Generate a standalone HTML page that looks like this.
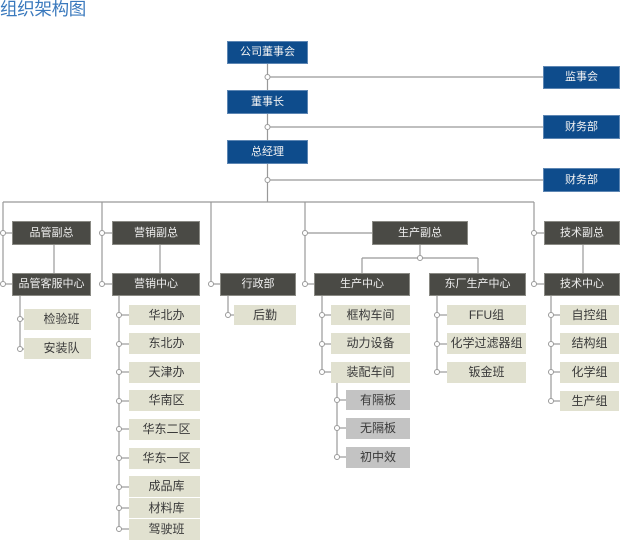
<!DOCTYPE html>
<html><head><meta charset="utf-8">
<style>
html,body{margin:0;padding:0;background:#fff;}
body{width:620px;height:546px;position:relative;overflow:hidden;font-family:"Liberation Sans","Noto Sans CJK SC",sans-serif;}
.t{position:absolute;left:0;top:-1px;font-size:17.5px;color:#3a79bd;line-height:20px;letter-spacing:-0.3px;}
.b{position:absolute;box-sizing:border-box;text-align:center;font-size:11px;white-space:nowrap;}
.bl{background:#0e4c8c;color:#f2f2f2;border:1px solid #5d86b3;}
.dk{background:#4a4a45;color:#f0f0f0;border:1px solid #8a8a84;}
.lt{background:#e1e1d0;color:#3a3a3a;font-size:12px;}
.gr{background:#c3c3c3;color:#3a3a3a;font-size:12px;}
svg{position:absolute;left:0;top:0;}
</style></head><body>
<div class="t">组织架构图</div>
<svg width="620" height="546" viewBox="0 0 620 546">
<g stroke="#999" stroke-width="1.2" fill="none">
<line x1="267.5" y1="64" x2="267.5" y2="202"/>
<line x1="267.5" y1="77" x2="543" y2="77"/>
<line x1="267.5" y1="127" x2="543" y2="127"/>
<line x1="267.5" y1="180" x2="543" y2="180"/>
<line x1="3" y1="202" x2="534" y2="202"/>
<line x1="3" y1="202" x2="3" y2="284"/>
<line x1="102" y1="202" x2="102" y2="284"/>
<line x1="211" y1="202" x2="211" y2="284"/>
<line x1="305" y1="202" x2="305" y2="284"/>
<line x1="534" y1="202" x2="534" y2="284"/>
<line x1="3" y1="233" x2="12" y2="233"/>
<line x1="3" y1="284" x2="12" y2="284"/>
<line x1="102" y1="233" x2="112" y2="233"/>
<line x1="102" y1="284" x2="112" y2="284"/>
<line x1="211" y1="284" x2="220" y2="284"/>
<line x1="305" y1="233" x2="372" y2="233"/>
<line x1="305" y1="284" x2="314" y2="284"/>
<line x1="534" y1="233" x2="544" y2="233"/>
<line x1="534" y1="284" x2="544" y2="284"/>
<line x1="54" y1="245" x2="54" y2="273"/>
<line x1="160" y1="245" x2="160" y2="273"/>
<line x1="583" y1="245" x2="583" y2="273"/>
<line x1="420" y1="245" x2="420" y2="258"/>
<line x1="362" y1="258" x2="478" y2="258"/>
<line x1="362" y1="258" x2="362" y2="273"/>
<line x1="478" y1="258" x2="478" y2="273"/>
<line x1="20" y1="296" x2="20" y2="349"/>
<line x1="20" y1="319" x2="24" y2="319"/>
<line x1="20" y1="349" x2="24" y2="349"/>
<line x1="119" y1="296" x2="119" y2="529"/>
<line x1="119" y1="315" x2="129" y2="315"/>
<line x1="119" y1="344" x2="129" y2="344"/>
<line x1="119" y1="372" x2="129" y2="372"/>
<line x1="119" y1="401" x2="129" y2="401"/>
<line x1="119" y1="429" x2="129" y2="429"/>
<line x1="119" y1="458" x2="129" y2="458"/>
<line x1="119" y1="487" x2="129" y2="487"/>
<line x1="119" y1="508" x2="129" y2="508"/>
<line x1="119" y1="529" x2="129" y2="529"/>
<line x1="228" y1="296" x2="228" y2="315"/>
<line x1="228" y1="315" x2="234" y2="315"/>
<line x1="322" y1="296" x2="322" y2="372"/>
<line x1="322" y1="315" x2="331" y2="315"/>
<line x1="322" y1="344" x2="331" y2="344"/>
<line x1="322" y1="372" x2="331" y2="372"/>
<line x1="337" y1="383" x2="337" y2="457"/>
<line x1="337" y1="400" x2="346" y2="400"/>
<line x1="337" y1="428" x2="346" y2="428"/>
<line x1="337" y1="457" x2="346" y2="457"/>
<line x1="437" y1="296" x2="437" y2="372"/>
<line x1="437" y1="315" x2="447" y2="315"/>
<line x1="437" y1="344" x2="447" y2="344"/>
<line x1="437" y1="372" x2="447" y2="372"/>
<line x1="551" y1="296" x2="551" y2="401"/>
<line x1="551" y1="315" x2="560" y2="315"/>
<line x1="551" y1="344" x2="560" y2="344"/>
<line x1="551" y1="372" x2="560" y2="372"/>
<line x1="551" y1="401" x2="560" y2="401"/>
</g>
<g stroke="#999" stroke-width="1" fill="#fff">
<circle cx="267.5" cy="77" r="2.5"/><circle cx="267.5" cy="127" r="2.5"/><circle cx="267.5" cy="180" r="2.5"/>
<circle cx="3" cy="233" r="2.5"/><circle cx="3" cy="284" r="2.5"/>
<circle cx="102" cy="233" r="2.5"/><circle cx="102" cy="284" r="2.5"/>
<circle cx="211" cy="284" r="2.5"/>
<circle cx="305" cy="233" r="2.5"/><circle cx="305" cy="284" r="2.5"/>
<circle cx="534" cy="233" r="2.5"/><circle cx="534" cy="284" r="2.5"/>
<circle cx="420" cy="258" r="2.5"/>
<circle cx="20" cy="319" r="2.5"/><circle cx="20" cy="349" r="2.5"/>
<circle cx="119" cy="315" r="2.5"/><circle cx="119" cy="344" r="2.5"/><circle cx="119" cy="372" r="2.5"/>
<circle cx="119" cy="401" r="2.5"/><circle cx="119" cy="429" r="2.5"/><circle cx="119" cy="458" r="2.5"/>
<circle cx="119" cy="487" r="2.5"/><circle cx="119" cy="508" r="2.5"/><circle cx="119" cy="529" r="2.5"/>
<circle cx="228" cy="315" r="2.5"/>
<circle cx="322" cy="315" r="2.5"/><circle cx="322" cy="344" r="2.5"/><circle cx="322" cy="372" r="2.5"/>
<circle cx="337" cy="400" r="2.5"/><circle cx="337" cy="428" r="2.5"/><circle cx="337" cy="457" r="2.5"/>
<circle cx="437" cy="315" r="2.5"/><circle cx="437" cy="344" r="2.5"/><circle cx="437" cy="372" r="2.5"/>
<circle cx="551" cy="315" r="2.5"/><circle cx="551" cy="344" r="2.5"/><circle cx="551" cy="372" r="2.5"/><circle cx="551" cy="401" r="2.5"/>
</g>
</svg>

<div class="b bl" style="left:227px;top:41px;width:81px;height:23px;line-height:21px;">公司董事会</div>
<div class="b bl" style="left:227px;top:90px;width:81px;height:24px;line-height:22px;">董事长</div>
<div class="b bl" style="left:227px;top:140px;width:81px;height:24px;line-height:22px;">总经理</div>
<div class="b bl" style="left:543px;top:66px;width:77px;height:23px;line-height:21px;">监事会</div>
<div class="b bl" style="left:543px;top:115px;width:77px;height:24px;line-height:22px;">财务部</div>
<div class="b bl" style="left:543px;top:168px;width:77px;height:24px;line-height:22px;">财务部</div>

<div class="b dk" style="left:12px;top:221px;width:79px;height:24px;line-height:22px;">品管副总</div>
<div class="b dk" style="left:12px;top:273px;width:79px;height:23px;line-height:21px;">品管客服中心</div>
<div class="b dk" style="left:112px;top:221px;width:88px;height:24px;line-height:22px;">营销副总</div>
<div class="b dk" style="left:112px;top:273px;width:88px;height:23px;line-height:21px;">营销中心</div>
<div class="b dk" style="left:220px;top:273px;width:76px;height:23px;line-height:21px;">行政部</div>
<div class="b dk" style="left:372px;top:221px;width:96px;height:24px;line-height:22px;">生产副总</div>
<div class="b dk" style="left:314px;top:273px;width:96px;height:23px;line-height:21px;">生产中心</div>
<div class="b dk" style="left:429px;top:273px;width:97px;height:23px;line-height:21px;">东厂生产中心</div>
<div class="b dk" style="left:544px;top:221px;width:76px;height:24px;line-height:22px;">技术副总</div>
<div class="b dk" style="left:544px;top:273px;width:76px;height:23px;line-height:21px;">技术中心</div>

<div class="b lt" style="left:24px;top:309px;width:67px;height:21px;line-height:21px;padding-left:8px;">检验班</div>
<div class="b lt" style="left:24px;top:338px;width:67px;height:21px;line-height:21px;padding-left:8px;">安装队</div>

<div class="b lt" style="left:129px;top:305px;width:71px;height:20px;line-height:20px;padding-left:4px;">华北办</div>
<div class="b lt" style="left:129px;top:333px;width:71px;height:21px;line-height:21px;padding-left:4px;">东北办</div>
<div class="b lt" style="left:129px;top:362px;width:71px;height:21px;line-height:21px;padding-left:4px;">天津办</div>
<div class="b lt" style="left:129px;top:390px;width:71px;height:21px;line-height:21px;padding-left:4px;">华南区</div>
<div class="b lt" style="left:129px;top:419px;width:71px;height:21px;line-height:21px;padding-left:4px;">华东二区</div>
<div class="b lt" style="left:129px;top:448px;width:71px;height:21px;line-height:21px;padding-left:4px;">华东一区</div>
<div class="b lt" style="left:129px;top:476px;width:71px;height:21px;line-height:21px;padding-left:4px;">成品库</div>
<div class="b lt" style="left:129px;top:498px;width:71px;height:20px;line-height:20px;padding-left:4px;">材料库</div>
<div class="b lt" style="left:129px;top:519px;width:71px;height:21px;line-height:21px;padding-left:4px;">驾驶班</div>

<div class="b lt" style="left:234px;top:305px;width:62px;height:20px;line-height:20px;">后勤</div>

<div class="b lt" style="left:331px;top:305px;width:79px;height:20px;line-height:20px;">框构车间</div>
<div class="b lt" style="left:331px;top:333px;width:79px;height:21px;line-height:21px;">动力设备</div>
<div class="b lt" style="left:331px;top:362px;width:79px;height:21px;line-height:21px;">装配车间</div>
<div class="b gr" style="left:346px;top:390px;width:64px;height:20px;line-height:20px;">有隔板</div>
<div class="b gr" style="left:346px;top:418px;width:64px;height:21px;line-height:21px;">无隔板</div>
<div class="b gr" style="left:346px;top:447px;width:64px;height:21px;line-height:21px;">初中效</div>

<div class="b lt" style="left:447px;top:305px;width:79px;height:20px;line-height:20px;">FFU组</div>
<div class="b lt" style="left:447px;top:333px;width:79px;height:21px;line-height:21px;">化学过滤器组</div>
<div class="b lt" style="left:447px;top:362px;width:79px;height:21px;line-height:21px;">钣金班</div>

<div class="b lt" style="left:560px;top:305px;width:59px;height:20px;line-height:20px;">自控组</div>
<div class="b lt" style="left:560px;top:333px;width:59px;height:21px;line-height:21px;">结构组</div>
<div class="b lt" style="left:560px;top:362px;width:59px;height:21px;line-height:21px;">化学组</div>
<div class="b lt" style="left:560px;top:391px;width:59px;height:20px;line-height:20px;">生产组</div>
</body></html>
